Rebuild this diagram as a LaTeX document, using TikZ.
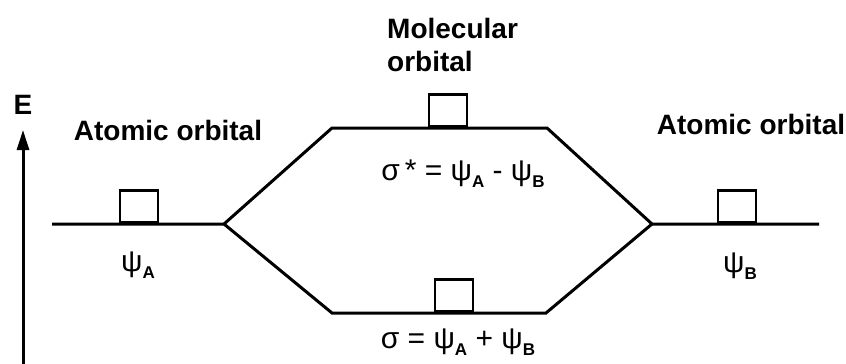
\documentclass[tikz,border=0pt]{standalone}
\usepackage{fontspec}
\setmainfont{Liberation Sans}
\usetikzlibrary{arrows.meta}
\newcommand{\sub}[1]{\raisebox{-0.45ex}{\fontsize{17}{17}\selectfont\bfseries #1}}
\tikzset{
  orb/.style={line width=3pt, line join=miter},
  obox/.style={draw, line width=2.6pt, minimum width=38pt, minimum height=32pt, inner sep=0pt, anchor=south},
  lbl/.style={font=\fontsize{28}{33}\selectfont\bfseries, inner sep=0pt},
  frm/.style={font=\fontsize{30}{34}\selectfont, inner sep=0pt}
}
\begin{document}
\begin{tikzpicture}[x=1pt,y=-1pt]
\useasboundingbox (0,0) rectangle (846,364);
% junction points
\coordinate (aL) at (52,224);
\coordinate (jL) at (224,224);
\coordinate (tL) at (332,128);
\coordinate (tR) at (547,128);
\coordinate (jR) at (652,224);
\coordinate (bL) at (332,313);
\coordinate (bR) at (546,313);
\coordinate (aR) at (819,224);
\coordinate (eBot) at (23,364);
\coordinate (eTop) at (23,130);
% levels
\draw[orb] (aL) -- (jL) -- (tL) -- (tR) -- (jR) -- (aR);
\draw[orb] (jL) -- (bL) -- (bR) -- (jR);
% boxes
\node[obox] (boxA) at (139,224) {};
\node[obox] (boxS) at (448,128) {};
\node[obox] (boxB) at (454,313) {};
\node[obox] (boxBB) at (737,224) {};
% energy axis
\draw[line width=3pt, -{Triangle[length=20pt,width=12pt]}] (eBot) -- (eTop);
\node[lbl] (E) at (23,105) {E};
% labels
\node[lbl] (atL) at (168,130) {Atomic orbital};
\node[lbl] (atR) at (751,124) {Atomic orbital};
\node[lbl, align=left, anchor=west] (mol) at (387,45) {Molecular\\orbital};
\node[frm] (psiA) at (138,265) {ψ\sub{A}};
\node[frm] (psiB) at (740,266) {ψ\sub{B}};
\node[frm] (sigS) at (463,174) {σ\,* = ψ\sub{A} - ψ\sub{B}};
\node[frm] (sig) at (458,342) {σ = ψ\sub{A} + ψ\sub{B}};
\end{tikzpicture}
\end{document}
